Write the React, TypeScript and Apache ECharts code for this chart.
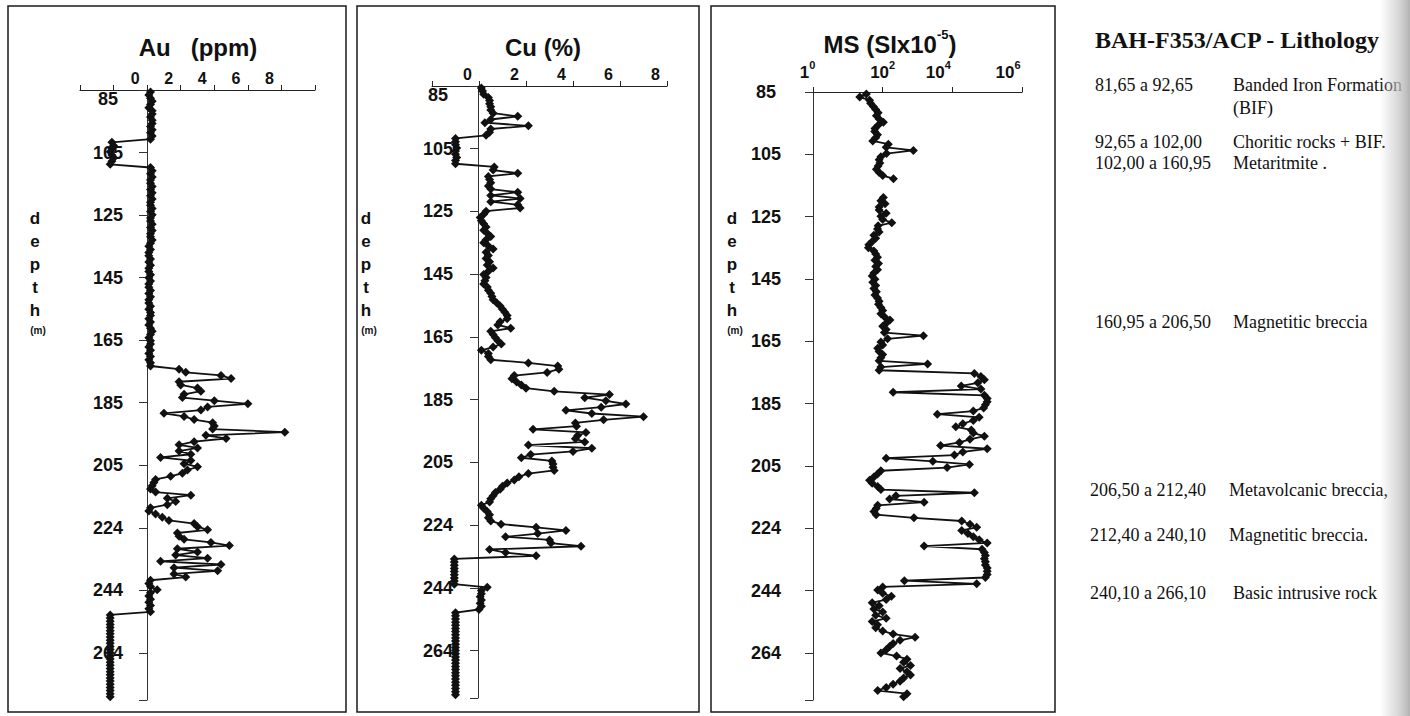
import React, { useEffect, useRef } from 'react';
import * as echarts from 'echarts';

// ---------- data ----------
const DEPTH: number[] = [
  86, 87, 88, 89, 90, 91, 92, 93, 94, 95,
  96, 97, 98, 99, 100, 101, 102, 103, 104, 105,
  106, 107, 108, 109, 110, 111, 112, 113, 114, 115,
  116, 117, 118, 119, 120, 121, 122, 123, 124, 125,
  126, 127, 128, 129, 130, 131, 132, 133, 134, 135,
  136, 137, 138, 139, 140, 141, 142, 143, 144, 145,
  146, 147, 148, 149, 150, 151, 152, 153, 154, 155,
  156, 157, 158, 159, 160, 161, 162, 163, 164, 165,
  166, 167, 168, 169, 170, 171, 172, 173, 174, 175,
  176, 177, 178, 179, 180, 181, 182, 183, 184, 185,
  186, 187, 188, 189, 190, 191, 192, 193, 194, 195,
  196, 197, 198, 199, 200, 201, 202, 203, 204, 205,
  206, 207, 208, 209, 210, 211, 212, 213, 214, 215,
  216, 217, 218, 219, 220, 221, 222, 223, 224, 225,
  226, 227, 228, 229, 230, 231, 232, 233, 234, 235,
  236, 237, 238, 239, 240, 241, 242, 243, 244, 245,
  246, 247, 248, 249, 250, 251, 252, 253, 254, 255,
  256, 257, 258, 259, 260, 261, 262, 263, 264, 265,
  266, 267, 268, 269, 270, 271, 272, 273, 274, 275,
  276, 277, 278,
];

// Au (ppm), one value per depth
const AU: number[] = [
  0.2, 0.1, 0.2, 0.3, 0.2, 0.1, 0.3, 0.3, 0.2, 0.3,
  0.3, 0.2, 0.3, 0.2, 0.3, 0.2, -2.1, -2.0, -2.1, -2.2,
  -2.1, -2.0, -2.1, -2.2, 0.2, 0.3, 0.2, 0.3, 0.2, 0.2,
  0.3, 0.2, 0.3, 0.2, 0.3, 0.2, 0.2, 0.3, 0.2, 0.3,
  0.2, 0.2, 0.3, 0.2, 0.3, 0.2, 0.2, 0.3, 0.2, 0.1,
  0.2, 0.1, 0.1, 0.2, 0.1, 0.2, 0.1, 0.1, 0.2, 0.1,
  0.2, 0.1, 0.1, 0.2, 0.1, 0.2, 0.1, 0.1, 0.2, 0.1,
  0.2, 0.2, 0.1, 0.2, 0.1, 0.2, 0.3, 0.2, 0.1, 0.2,
  0.2, 0.1, 0.2, 0.1, 0.2, 0.1, 0.2, 0.2, 1.9, 2.3,
  4.4, 5.0, 1.9, 2.0, 3.0, 3.2, 2.2, 2.1, 4.0, 6.0,
  3.6, 3.2, 1.0, 2.2, 2.8, 3.9, 4.0, 3.9, 8.2, 3.5,
  4.7, 2.8, 1.9, 3.0, 1.9, 2.6, 0.8, 2.6, 2.2, 3.0,
  2.4, 2.1, 1.4, 0.5, 0.4, 0.3, 0.2, 0.5, 2.6, 1.2,
  1.7, 1.2, 0.2, 0.1, 0.5, 0.9, 1.3, 2.8, 3.0, 3.6,
  1.8, 1.9, 2.2, 3.8, 4.9, 1.8, 3.0, 1.7, 3.6, 0.8,
  4.4, 1.6, 4.2, 1.6, 2.3, 0.2, 0.1, 0.2, 0.6, 0.2,
  0.1, 0.2, 0.1, 0.2, 0.1, 0.2, -2.2, -2.2, -2.2, -2.2,
  -2.2, -2.2, -2.2, -2.2, -2.2, -2.2, -2.2, -2.2, -2.2, -2.2,
  -2.2, -2.2, -2.2, -2.2, -2.2, -2.2, -2.2, -2.2, -2.2, -2.2,
  -2.2, -2.2, -2.2,
];

// Cu (%), one value per depth
const CU: number[] = [
  0.1, 0.15, 0.2, 0.4, 0.45, 0.45, 0.5, 0.5, 0.6, 1.65,
  0.5, 0.25, 2.1, 0.5, 0.45, 0.3, -1.0, -1.0, -1.0, -0.95,
  -1.0, -1.0, -0.95, -1.0, -1.0, 0.65, 0.6, 1.65, 0.4, 0.45,
  0.5, 0.4, 0.5, 1.65, 0.5, 1.75, 0.5, 1.65, 1.75, 0.3,
  0.2, 0.05, 0.1, 0.2, 0.3, 0.2, 0.35, 0.5, 0.3, 0.2,
  0.4, 0.6, 0.3, 0.4, 0.3, 0.45, 0.35, 0.6, 0.4, 0.2,
  0.3, 0.25, 0.2, 0.35, 0.4, 0.5, 0.55, 0.6, 0.75, 0.9,
  1.0, 1.1, 1.2, 1.2, 0.9, 0.8, 1.35, 0.5, 0.6, 0.7,
  0.8, 0.95, 0.6, 0.1, 0.4, 0.4, 0.5, 2.1, 3.35, 3.4,
  2.9, 1.5, 1.4, 1.6, 1.8, 2.0, 3.2, 5.55, 4.5, 5.4,
  6.25, 5.2, 3.7, 4.8, 7.0, 5.3, 4.1, 4.15, 2.3, 4.55,
  4.2, 4.1, 4.5, 2.1, 4.8, 4.0, 2.2, 1.8, 3.1, 3.15,
  3.15, 3.2, 2.1, 1.7, 1.5, 1.2, 1.0, 0.9, 0.7, 0.6,
  0.5, 0.45, 0.1, 0.2, 0.35, 0.45, 0.4, 0.5, 0.94, 2.43,
  3.7, 2.5, 1.13, 3.0, 3.06, 4.34, 0.45, 1.13, 2.43, -1.05,
  -1.05, -1.05, -1.05, -1.05, -1.05, -1.05, -1.05, -1.05, 0.35, 0.1,
  0.1, 0.05, 0.1, 0.05, 0.1, 0.0, -1.0, -1.0, -1.0, -1.0,
  -1.0, -1.0, -1.0, -1.0, -1.0, -1.0, -1.0, -1.0, -1.0, -1.0,
  -1.0, -1.0, -1.0, -1.0, -1.0, -1.0, -1.0, -1.0, -1.0, -1.0,
  -1.0, -1.0, -1.0,
];

// MS (SI x 10^-5), one value per depth; null = not measured
const MS: (number | null)[] = [
  34, 22, 42, 45, 54, 63, 74, 66, 79, 105,
  74, 60, 59, 71, 63, 52, 145, 126, 760, 129,
  89, 79, 83, 74, 66, 79, 100, 204, null, null,
  null, null, null, 105, 89, 117, 79, 79, 126, 89,
  100, 182, 74, 71, 79, 56, 63, 50, 40, 39,
  56, 63, 71, 60, 76, 63, 71, 56, 50, 60,
  52, 63, 56, 66, 60, 71, 79, 76, 89, 100,
  89, 112, 162, 126, 100, 126, 112, 1480, 138, 89,
  100, 72, 79, 100, 89, 79, 1950, 89, 79, 43000,
  66000, 83000, 54000, 18000, 66000, 200, 83000, 100000, 100000, 89000,
  79000, 40000, 3700, 59000, 40000, 20000, 12600, 35000, 40000, 83000,
  32000, 16000, 4600, 100000, 20000, 11500, 126, 2750, 31000, 7100,
  89, 71, 56, 42, 50, 72, 89, 43000, 240, 158,
  1550, 72, 65, 56, 65, 790, 18600, 32000, 50000, 18600,
  28000, 40000, 59000, 100000, 1550, 71000, 83000, 89000, 83000, 89000,
  89000, 100000, 100000, 100000, 89000, 420, 50000, 100, 72, 100,
  178, 126, 50, 79, 56, 100, 63, 126, 50, 71,
  63, 100, 200, 850, 316, 200, 158, 126, 89, 251,
  500, 400, 630, 316, 500, 630, 400, 316, 200, 126,
  72, 500, 400,
];

const Y_MIN = 85.4;
const Y_MAX = 279;
const Y_STEP = 19.85;

const TITLES = ['Au   (ppm)', 'Cu (%)'];
const LITHO_TITLE = 'BAH-F353/ACP - Lithology';
const LITHO_RANGES = [
  '81,65 a 92,65',
  '92,65 a 102,00',
  '102,00 a 160,95',
  '160,95 a 206,50',
  '206,50 a 212,40',
  '212,40 a 240,10',
  '240,10 a 266,10',
];
const LITHO_NAMES = [
  'Banded Iron Formation\n(BIF)',
  'Choritic rocks + BIF.',
  'Metaritmite .',
  'Magnetitic breccia',
  'Metavolcanic breccia,',
  'Magnetitic breccia.',
  'Basic intrusive rock',
];

// ---------- layout ----------
const SANS = '"Liberation Sans", Arial, Helvetica, sans-serif';
const SERIF = '"Liberation Serif", "Times New Roman", serif';
const INK = '#111';
const LITHO_Y = [85, 142, 163, 322, 490, 535, 593];
const LITHO_RX = [1095, 1095, 1095, 1095, 1090, 1090, 1090];
const LITHO_NX = [1233, 1233, 1233, 1233, 1229, 1229, 1233];

const yLabel = (v: number) => {
  const k = (v - Y_MIN) / Y_STEP;
  return Math.abs(k - Math.round(k)) < 1e-3 ? String(Math.round(v + 1e-3)) : '';
};

function makeYAxis(gridIndex: number, offset: number, margin: number, minTop: boolean) {
  return {
    type: 'value',
    gridIndex,
    inverse: true,
    position: 'left',
    offset,
    min: Y_MIN,
    max: Y_MAX,
    interval: Y_STEP,
    axisLine: { show: true, onZero: false, lineStyle: { color: '#333', width: 1 } },
    axisTick: { show: true, length: 8, lineStyle: { color: '#333', width: 1 } },
    axisLabel: {
      formatter: yLabel,
      margin,
      align: 'center',
      color: INK,
      fontFamily: SANS,
      fontWeight: 'bold',
      fontSize: 18,
      ...(minTop ? { verticalAlignMinLabel: 'top' } : {}),
    },
    splitLine: { show: false },
  };
}

function makeLinearX(gridIndex: number, min: number, max: number, shift: number) {
  return {
    type: 'value',
    gridIndex,
    position: 'top',
    min,
    max,
    interval: 2,
    axisLine: { show: true, onZero: false, lineStyle: { color: '#222', width: 1.2 } },
    axisTick: { show: true, length: 5, lineStyle: { color: '#222' } },
    axisLabel: {
      formatter: (v: number) => (v >= 0 && v <= 8 ? String(v) : ''),
      margin: 4,
      padding: [0, shift * 2, 0, 0],
      color: INK,
      fontFamily: SANS,
      fontWeight: 'bold',
      fontSize: 16,
    },
    splitLine: { show: false },
  };
}

function lineSeries(idx: number, values: (number | null)[]) {
  return {
    type: 'line',
    xAxisIndex: idx,
    yAxisIndex: idx,
    data: DEPTH.map((d, i) => (values[i] === null ? ['-', d] : [values[i], d])),
    symbol: 'diamond',
    symbolSize: 9,
    showSymbol: true,
    connectNulls: false,
    clip: false,
    lineStyle: { color: INK, width: 1.8 },
    itemStyle: { color: INK },
    z: 5,
  };
}

function depthLabel(x: number) {
  return [
    {
      type: 'text',
      x,
      y: 207,
      style: {
        text: 'd\ne\np\nt\nh',
        fill: INK,
        font: `bold 17px ${SANS}`,
        lineHeight: 23,
        align: 'center',
        verticalAlign: 'top',
      },
    },
    {
      type: 'text',
      x: x + 3,
      y: 330,
      style: { text: '(m)', fill: INK, font: `bold 10px ${SANS}`, align: 'center', verticalAlign: 'middle' },
    },
  ];
}

export default function App() {
  const ref = useRef<HTMLDivElement>(null);

  useEffect(() => {
    document.body.style.margin = '0';
    if (!ref.current) return;
    const chart = echarts.init(ref.current, undefined, { renderer: 'svg' });

    const msRich = {
      m: { fontSize: 17, fontWeight: 'bold', fontFamily: SANS, color: INK, lineHeight: 22, verticalAlign: 'bottom' },
      s0: { fontSize: 11, fontWeight: 'bold', fontFamily: SANS, color: INK, lineHeight: 12, verticalAlign: 'top', padding: [0, 11, 0, 0] },
      s2: { fontSize: 11, fontWeight: 'bold', fontFamily: SANS, color: INK, lineHeight: 12, verticalAlign: 'top' },
      s4: { fontSize: 11, fontWeight: 'bold', fontFamily: SANS, color: INK, lineHeight: 12, verticalAlign: 'top', padding: [0, 28, 0, 0] },
    };

    const graphics: any[] = [];
    // panel frames
    [
      [8, 6, 338, 706],
      [357, 6, 342, 706],
      [711, 6, 344, 706],
    ].forEach(([x, y, w, h]) =>
      graphics.push({
        type: 'rect',
        shape: { x, y, width: w, height: h },
        style: { fill: 'none', stroke: '#1a1a1a', lineWidth: 1.5 },
        z: 1,
      })
    );
    // titles
    graphics.push({
      type: 'text', x: 198, y: 47,
      style: { text: TITLES[0], fill: INK, font: `bold 24px ${SANS}`, align: 'center', verticalAlign: 'middle' },
    });
    graphics.push({
      type: 'text', x: 543, y: 47,
      style: { text: TITLES[1], fill: INK, font: `bold 24px ${SANS}`, align: 'center', verticalAlign: 'middle' },
    });
    graphics.push({
      type: 'text', x: 890, y: 42,
      style: {
        text: '{a|MS (SIx10}{b|-5}{a|)}',
        align: 'center',
        verticalAlign: 'middle',
        rich: {
          a: { fontSize: 24, fontWeight: 'bold', fontFamily: SANS, fill: INK, color: INK, lineHeight: 28, verticalAlign: 'bottom' },
          b: { fontSize: 13, fontWeight: 'bold', fontFamily: SANS, fill: INK, color: INK, lineHeight: 14, verticalAlign: 'top' },
        },
      },
    });
    // depth labels
    graphics.push(...depthLabel(35), ...depthLabel(366), ...depthLabel(732));
    // lithology
    graphics.push({
      type: 'text', x: 1095, y: 40,
      style: { text: LITHO_TITLE, fill: INK, font: `bold 24px ${SERIF}`, align: 'left', verticalAlign: 'middle' },
    });
    LITHO_RANGES.forEach((r, i) => {
      graphics.push({
        type: 'text', x: LITHO_RX[i], y: LITHO_Y[i] - 11.5,
        style: { text: r, fill: INK, font: `18px ${SERIF}`, lineHeight: 23, align: 'left', verticalAlign: 'top' },
      });
      graphics.push({
        type: 'text', x: LITHO_NX[i], y: LITHO_Y[i] - 11.5,
        style: { text: LITHO_NAMES[i], fill: INK, font: `18px ${SERIF}`, lineHeight: 23, align: 'left', verticalAlign: 'top' },
      });
    });
    // page-edge shadow
    graphics.push({
      type: 'rect',
      shape: { x: 1380, y: 0, width: 30, height: 716 },
      style: {
        fill: new echarts.graphic.LinearGradient(0, 0, 1, 0, [
          { offset: 0, color: 'rgba(200,200,200,0)' },
          { offset: 0.6, color: 'rgba(200,200,200,0.7)' },
          { offset: 1, color: 'rgba(175,175,175,0.95)' },
        ]),
      },
      z: 10,
    });

    const option: any = {
      animation: false,
      backgroundColor: '#ffffff',
      grid: [
        { left: 80, top: 90, width: 235, height: 610, outerBoundsMode: 'none', containLabel: false },
        { left: 432, top: 86, width: 235, height: 612, outerBoundsMode: 'none', containLabel: false },
        { left: 813, top: 92, width: 209, height: 608, outerBoundsMode: 'none', containLabel: false },
      ],
      xAxis: [
        makeLinearX(0, -4, 10, 12),
        makeLinearX(1, -2, 8, 11.5),
        {
          type: 'log',
          gridIndex: 2,
          position: 'top',
          logBase: 100,
          min: 1,
          max: 1000000,
          axisLine: { show: true, onZero: false, lineStyle: { color: '#222', width: 1.2 } },
          axisTick: { show: true, length: 5, lineStyle: { color: '#222' } },
          axisLabel: {
            margin: 11,
            formatter: (v: number) => {
              const e = Math.round(Math.log10(v));
              if (e === 0) return '{m|1}{s0|0}';
              if (e === 2) return '{m|10}{s2|2}';
              return `{m|10}{s4|${e}}`;
            },
            rich: msRich,
          },
          splitLine: { show: false },
          minorTick: { show: false },
        },
      ],
      yAxis: [
        makeYAxis(0, -67, 39, true),
        makeYAxis(1, -46, 40, true),
        makeYAxis(2, 0, 47, false),
      ],
      series: [lineSeries(0, AU), lineSeries(1, CU), lineSeries(2, MS)],
      graphic: { elements: graphics },
    };

    chart.setOption(option);
    return () => chart.dispose();
  }, []);

  return <div ref={ref} style={{ width: 1410, height: 716, background: '#fff' }} />;
}
